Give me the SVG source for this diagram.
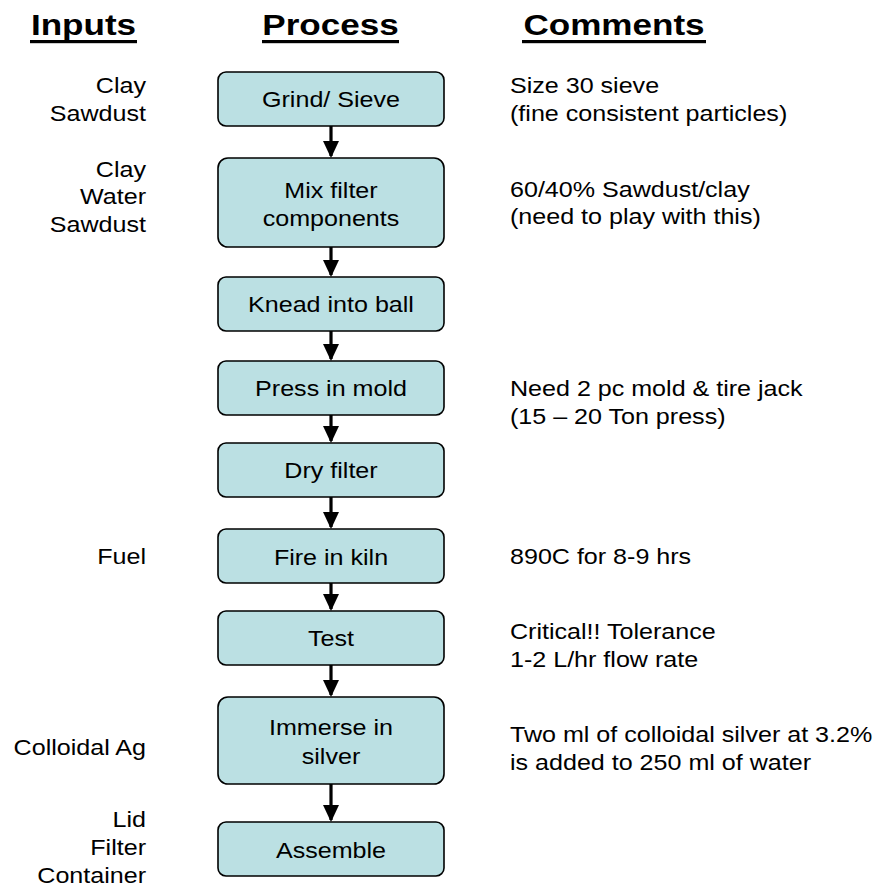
<svg xmlns="http://www.w3.org/2000/svg" width="879" height="890" viewBox="0 0 879 890">
<style>
.h{font-family:"Liberation Sans",Arial,sans-serif;font-weight:bold;font-size:29px;fill:#000}
.t{font-family:"Liberation Sans",Arial,sans-serif;font-size:22px;fill:#000}
.m{text-anchor:middle}
.e{text-anchor:end}
.box{fill:#BBE0E3;stroke:#000;stroke-width:1.6}
.ln{stroke:#000;stroke-width:3.2;fill:none}
</style>
<defs>
<marker id="ah" markerWidth="17" markerHeight="16" refX="15" refY="8" orient="auto" markerUnits="userSpaceOnUse" viewBox="0 0 17 16">
<path d="M0,0 L17,8 L0,16 z" fill="#000"/>
</marker>
</defs>
<rect width="879" height="890" fill="#fff"/>
<g id="headings">
<text class="h m" transform="translate(83.5,35) scale(1.21,1)">Inputs</text>
<rect x="30" y="40" width="107" height="3.2" fill="#000"/>
<text class="h m" transform="translate(330.5,35) scale(1.21,1)">Process</text>
<rect x="262" y="40" width="137" height="3.2" fill="#000"/>
<text class="h m" transform="translate(614,35) scale(1.21,1)">Comments</text>
<rect x="522" y="40" width="184" height="3.2" fill="#000"/>
</g>
<g id="connectors">
<line class="ln" x1="331" y1="126" x2="331" y2="156" marker-end="url(#ah)"/>
<line class="ln" x1="331" y1="247" x2="331" y2="275" marker-end="url(#ah)"/>
<line class="ln" x1="331" y1="331" x2="331" y2="359" marker-end="url(#ah)"/>
<line class="ln" x1="331" y1="415" x2="331" y2="441" marker-end="url(#ah)"/>
<line class="ln" x1="331" y1="497" x2="331" y2="527" marker-end="url(#ah)"/>
<line class="ln" x1="331" y1="583" x2="331" y2="609" marker-end="url(#ah)"/>
<line class="ln" x1="331" y1="665" x2="331" y2="695" marker-end="url(#ah)"/>
<line class="ln" x1="331" y1="784" x2="331" y2="820" marker-end="url(#ah)"/>
</g>
<g id="n1"><rect class="box" x="218" y="72" width="226" height="54" rx="8"/><text class="t m" transform="translate(331,107) scale(1.14,1)">Grind/ Sieve</text></g>
<g id="n2"><rect class="box" x="218" y="158" width="226" height="89" rx="10"/><text class="t m" transform="translate(331,198) scale(1.14,1)">Mix filter</text><text class="t m" transform="translate(331,226) scale(1.14,1)">components</text></g>
<g id="n3"><rect class="box" x="218" y="277" width="226" height="54" rx="8"/><text class="t m" transform="translate(331,312) scale(1.14,1)">Knead into ball</text></g>
<g id="n4"><rect class="box" x="218" y="361" width="226" height="54" rx="8"/><text class="t m" transform="translate(331,396) scale(1.14,1)">Press in mold</text></g>
<g id="n5"><rect class="box" x="218" y="443" width="226" height="54" rx="8"/><text class="t m" transform="translate(331,478) scale(1.14,1)">Dry filter</text></g>
<g id="n6"><rect class="box" x="218" y="529" width="226" height="54" rx="8"/><text class="t m" transform="translate(331,565) scale(1.14,1)">Fire in kiln</text></g>
<g id="n7"><rect class="box" x="218" y="611" width="226" height="54" rx="8"/><text class="t m" transform="translate(331,646) scale(1.14,1)">Test</text></g>
<g id="n8"><rect class="box" x="218" y="697" width="226" height="87" rx="10"/><text class="t m" transform="translate(331,735) scale(1.14,1)">Immerse in</text><text class="t m" transform="translate(331,764) scale(1.14,1)">silver</text></g>
<g id="n9"><rect class="box" x="218" y="822" width="226" height="54" rx="8"/><text class="t m" transform="translate(331,858) scale(1.14,1)">Assemble</text></g>
<g id="inputs">
<text class="t e" transform="translate(146,93) scale(1.14,1)">Clay</text>
<text class="t e" transform="translate(146,121) scale(1.14,1)">Sawdust</text>
<text class="t e" transform="translate(146,177) scale(1.14,1)">Clay</text>
<text class="t e" transform="translate(146,204) scale(1.14,1)">Water</text>
<text class="t e" transform="translate(146,232) scale(1.14,1)">Sawdust</text>
<text class="t e" transform="translate(146,564) scale(1.14,1)">Fuel</text>
<text class="t e" transform="translate(146,755) scale(1.14,1)">Colloidal Ag</text>
<text class="t e" transform="translate(146,827) scale(1.14,1)">Lid</text>
<text class="t e" transform="translate(146,855) scale(1.14,1)">Filter</text>
<text class="t e" transform="translate(146,883) scale(1.14,1)">Container</text>
</g>
<g id="comments">
<text class="t" transform="translate(510,93) scale(1.14,1)">Size 30 sieve</text>
<text class="t" transform="translate(510,121) scale(1.14,1)">(fine consistent particles)</text>
<text class="t" transform="translate(510,197) scale(1.14,1)">60/40% Sawdust/clay</text>
<text class="t" transform="translate(510,224) scale(1.14,1)">(need to play with this)</text>
<text class="t" transform="translate(510,396) scale(1.14,1)">Need 2 pc mold &amp; tire jack</text>
<text class="t" transform="translate(510,424) scale(1.14,1)">(15 – 20 Ton press)</text>
<text class="t" transform="translate(510,564) scale(1.14,1)">890C for 8-9 hrs</text>
<text class="t" transform="translate(510,639) scale(1.14,1)">Critical!! Tolerance</text>
<text class="t" transform="translate(510,667) scale(1.14,1)">1-2 L/hr flow rate</text>
<text class="t" transform="translate(510,742) scale(1.14,1)">Two ml of colloidal silver at 3.2%</text>
<text class="t" transform="translate(510,770) scale(1.14,1)">is added to 250 ml of water</text>
</g>
</svg>
